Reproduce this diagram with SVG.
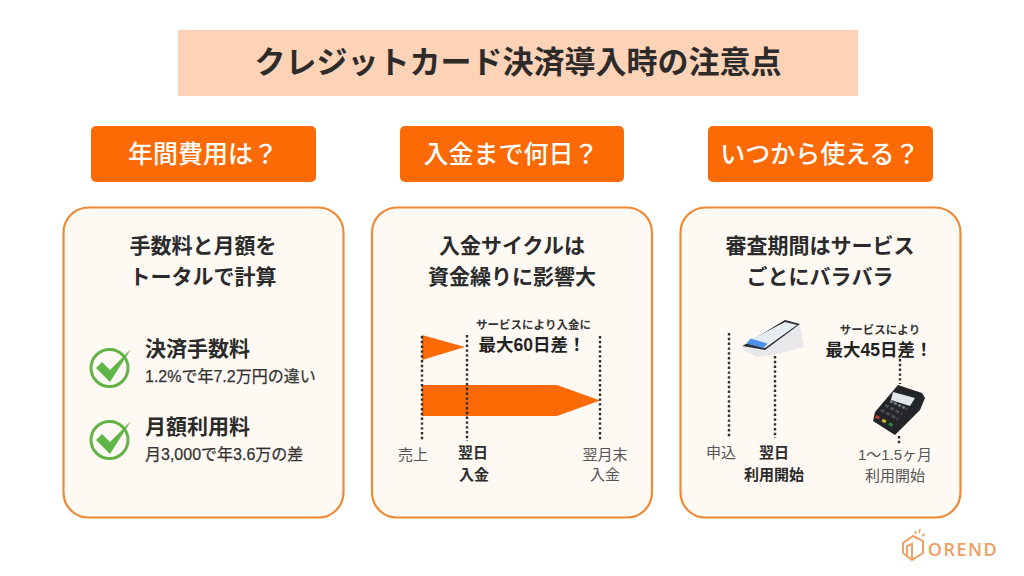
<svg xmlns="http://www.w3.org/2000/svg" width="1024" height="576" viewBox="0 0 1024 576">
<style>
text{font-family:"Liberation Sans","Noto Sans CJK JP",sans-serif;fill:#333;text-anchor:middle}
.hd{font-size:25px;font-weight:500;fill:#fff}
.card{fill:#fef9f3;stroke:#ee8a33;stroke-width:2.2}
.btn{fill:#fb6a05}
.h2{font-size:21px;font-weight:700;fill:#2b2b2b}
.h3{font-size:21px;font-weight:700;fill:#2b2b2b;text-anchor:start}
.sm{font-size:16px;font-weight:400;fill:#333;text-anchor:start;stroke:#333;stroke-width:.25}
.lb{font-size:15px;font-weight:400;fill:#555}
.lbb{font-size:15px;font-weight:700;fill:#2b2b2b}
.t1{font-size:11.500px;font-weight:700;fill:#333}
.t2{font-size:17.500px;font-weight:700;fill:#222}
.dot{fill:none;stroke:#2f2f2f;stroke-width:2.4;stroke-dasharray:2.4 2.4}
.ar{fill:#fb6a05}
.chk{fill:#5fb548}
.ring{fill:none;stroke:#63b347;stroke-width:3}
</style>
<rect width="1024" height="576" fill="#fff"/>
<g id="title"><rect x="178" y="30" width="680" height="66" fill="#fdd3b8"/><text x="518" y="73" style="font-size:31px;font-weight:700;fill:#2d2a2a">クレジットカード決済導入時の注意点</text></g>

<g id="q1"><rect class="btn" x="91" y="126" width="225" height="56" rx="5"/><text class="hd" x="203" y="163">年間費用は？</text></g>
<g id="q2"><rect class="btn" x="400" y="126" width="224" height="56" rx="5"/><text class="hd" x="511" y="163">入金まで何日？</text></g>
<g id="q3"><rect class="btn" x="708" y="126" width="225" height="56" rx="5"/><text class="hd" x="820" y="163">いつから使える？</text></g>

<g id="card1"><rect class="card" x="63.500" y="207.500" width="280" height="310" rx="25"/>
<text class="h2" x="203" y="253">手数料と月額を</text><text class="h2" x="203" y="284">トータルで計算</text>
<circle class="ring" cx="109.500" cy="368" r="18.500"/><path class="chk" d="M96 368 L102 362 L110 370 L131 349 L110 382Z"/>
<circle class="ring" cx="109.500" cy="440" r="18.500"/><path class="chk" d="M96 440 L102 434 L110 442 L131 421 L110 454Z"/>
<text class="h3" x="145" y="356">決済手数料</text><text class="sm" x="145" y="382">1.2%で年7.2万円の違い</text>
<text class="h3" x="145" y="434">月額利用料</text><text class="sm" x="145" y="460">月3,000で年3.6万の差</text></g>

<g id="card2"><rect class="card" x="372" y="207.500" width="280" height="310" rx="25"/>
<text class="h2" x="512" y="253">入金サイクルは</text><text class="h2" x="512" y="284">資金繰りに影響大</text>
<path class="ar" d="M422 335 L465 347 L422 360Z"/><path class="ar" d="M422 385 H557 L600 400.500 L557 416 H422Z"/>
<text class="t1" x="533.500" y="329">サービスにより入金に</text><text class="t2" x="532" y="351">最大60日差！</text>
<text class="lb" x="413" y="460">売上</text><text class="lbb" x="473" y="458">翌日</text><text class="lbb" x="474" y="480">入金</text><text class="lb" x="605" y="460">翌月末</text><text class="lb" x="605" y="480">入金</text></g>

<g id="card3"><rect class="card" x="680.500" y="207.500" width="280" height="310" rx="25"/>
<text class="h2" x="820" y="253">審査期間はサービス</text><text class="h2" x="820" y="284">ごとにバラバラ</text>
<g id="terminal1"><path d="M742.500 346 L785 320 L800 324 L804 347 L777 354 L757 357 L743 350Z" fill="#e8e8ea"/><path d="M742.500 346 L785 320 L800 324 L765 350Z" fill="#2c3036"/><path d="M745 343 L785 322 L797 325 L765 348Z" fill="#e6edf2"/><path d="M746.500 343.500 L750.500 338.500 L767.500 343.500 L763.500 348Z" fill="#4d90e8"/></g>
<text class="t1" x="880" y="334">サービスにより</text><text class="t2" x="879" y="356">最大45日差！</text>
<g id="terminal2"><path d="M875 412 L898 385 L922 393 L925 398 L920 410 L895 435 L873 421Z" fill="#232528"/><path d="M893 392 L915 398 L910 406 L891 400Z" fill="#e4e6ee"/><path d="M890 401 L907 409" stroke="#77797d" stroke-width="2.500" stroke-dasharray="3 1.500"/><g stroke="#4b4e52" stroke-width="3" stroke-dasharray="4 2"><path d="M885 405 L902 414"/><path d="M881 410 L898 419"/></g><rect x="875.500" y="415.500" width="4" height="3" fill="#c0392b" transform="rotate(25 877 417)"/><rect x="882" y="419.500" width="4" height="3" fill="#d4b82a" transform="rotate(25 884 421)"/><rect x="889" y="423" width="4" height="3" fill="#2d8a46" transform="rotate(25 891 424)"/></g>
<text class="lb" x="721" y="458">申込</text><text class="lbb" x="774" y="458">翌日</text><text class="lbb" x="774" y="480">利用開始</text><text class="lb" x="895" y="460">1〜1.5ヶ月</text><text class="lb" x="895" y="481">利用開始</text></g>

<g id="connectors">
<path class="dot" d="M422 336 V441"/><path class="dot" d="M467 335 V441"/><path class="dot" d="M600 336 V441"/>
<path class="dot" d="M729 333 V438"/><path class="dot" d="M775 356 V438"/><path class="dot" d="M900 359 V384"/><path class="dot" d="M899 436 V445"/>
</g>

<g id="logo"><path d="M903 543 L913 536 L923 541 V553 L912 560 L903 553Z M907 555 V546 L912 544 L912 559" fill="none" stroke="#f0a066" stroke-width="2"/><path d="M916 534 L915 531 M919 533 L920 529 M922 536 L925 534" stroke="#f0a066" stroke-width="1.600"/><text x="963" y="555.500" style="font-family:'Open Sans',sans-serif;font-size:18px;font-weight:600;fill:#ef9e63;letter-spacing:1.500px">OREND</text></g>
</svg>
